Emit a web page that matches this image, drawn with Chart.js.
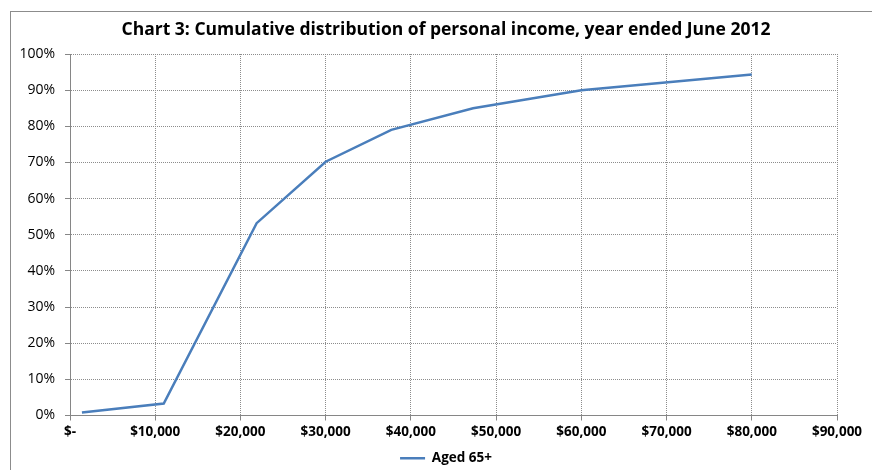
<!DOCTYPE html>
<html>
<head>
<meta charset="utf-8">
<script src="https://cdn.jsdelivr.net/npm/chart.js@4/dist/chart.umd.min.js"></script>
<style>
  html, body { margin: 0; padding: 0; background: #fff; overflow: hidden; }
  #frame { position: absolute; left: 10px; top: 11px; width: 900px; height: 500px;
           border-left: 1px solid #8c8c8c; border-top: 1px solid #8c8c8c; }
  #c { position: absolute; left: 0; top: 0; }
</style>
</head>
<body>
<div id="frame"></div>
<canvas id="c" width="872" height="470"></canvas>
<script>
// Data
const incomeX = [1400, 11000, 21900, 30000, 37700, 47300, 60000, 80000];
const cumulativePct = [0.8, 3.3, 53.2, 70.2, 79.0, 85.0, 90.0, 94.3];
const seriesName = 'Aged 65+';
const chartTitle = 'Chart 3: Cumulative distribution of personal income, year ended June 2012';
const xTickValues = [0, 10000, 20000, 30000, 40000, 50000, 60000, 70000, 80000, 90000];
const yTickValues = [0, 10, 20, 30, 40, 50, 60, 70, 80, 90, 100];

const points = incomeX.map((x, i) => ({ x: x, y: cumulativePct[i] }));

const gridColor = '#8c8c8c';
const axisColor = '#868686';
const font = 'Open Sans';

new Chart(document.getElementById('c'), {
  type: 'line',
  data: {
    datasets: [{
      label: seriesName,
      data: points,
      borderColor: '#4A7EBB',
      backgroundColor: '#4A7EBB',
      borderWidth: 2.5,
      pointRadius: 0,
      pointHoverRadius: 0,
      tension: 0,
      fill: false
    }]
  },
  options: {
    responsive: false,
    animation: false,
    devicePixelRatio: 1,
    layout: { padding: { left: 20, right: 0, top: 0, bottom: -5 } },
    plugins: {
      tooltip: { enabled: false },
      title: {
        display: true,
        text: chartTitle,
        color: '#000',
        font: { family: font, size: 17.5, weight: 'bold', lineHeight: 1.2 },
        padding: { top: 19.5, bottom: 13.5 }
      },
      legend: {
        display: true,
        position: 'bottom',
        labels: {
          color: '#000',
          font: { family: font, size: 13.5, weight: 'bold' },
          usePointStyle: true,
          pointStyle: 'line',
          pointStyleWidth: 25,
          padding: 9
        }
      }
    },
    scales: {
      x: {
        type: 'linear',
        min: 0,
        max: 90000,
        afterBuildTicks: s => { s.ticks = xTickValues.map(v => ({ value: v })); },
        afterFit: s => { s.height = 27; },
        ticks: {
          color: '#000',
          font: { family: font, size: 13.5, weight: 'bold' },
          padding: 4,
          maxRotation: 0,
          autoSkip: false,
          callback: v => v === 0 ? '$-' : '$' + v.toLocaleString('en-US')
        },
        grid: { color: gridColor, lineWidth: 1, tickLength: 5, tickColor: axisColor, tickBorderDash: [] },
        border: { display: true, color: axisColor, width: 1, dash: [1, 1] }
      },
      y: {
        type: 'linear',
        min: 0,
        max: 100,
        afterBuildTicks: s => { s.ticks = yTickValues.map(v => ({ value: v })); },
        afterFit: s => { s.width = 50; },
        ticks: {
          color: '#000',
          font: { family: font, size: 14 },
          padding: 10,
          callback: v => v + '%'
        },
        grid: { color: gridColor, lineWidth: 1, tickLength: 5, tickColor: axisColor, tickBorderDash: [] },
        border: { display: true, color: axisColor, width: 1, dash: [1, 1] }
      },
      yRight: {
        type: 'linear',
        position: 'right',
        display: true,
        afterFit: s => { s.width = 35; },
        ticks: { display: false },
        grid: { display: false, drawOnChartArea: false, drawTicks: false },
        border: { display: false }
      }
    }
  }
});
</script>
</body>
</html>
